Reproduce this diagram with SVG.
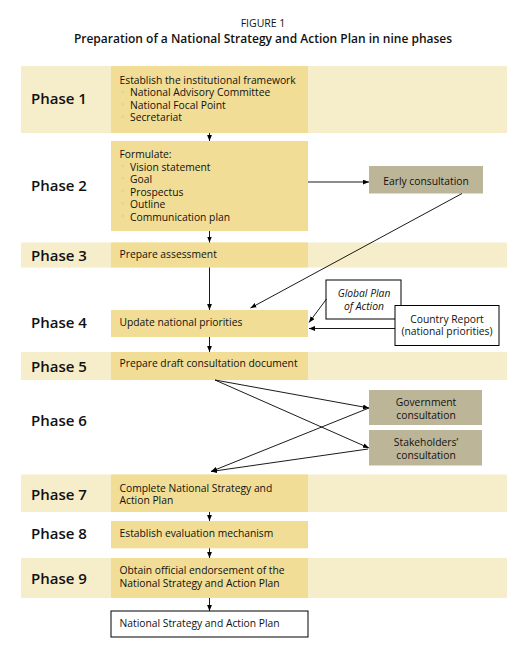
<svg xmlns="http://www.w3.org/2000/svg" width="530" height="653" viewBox="0 0 530 653">
<defs>
<marker id="ah" viewBox="0 0 10 8" refX="10" refY="4" markerWidth="6" markerHeight="5" orient="auto" markerUnits="userSpaceOnUse">
<path d="M0,0 L10,4 L0,8 Z" fill="#000"/>
</marker>
<style>
text{font-family:"Open Sans","Liberation Sans",sans-serif;fill:#111}
.band{fill:#f6edcb}
.box{fill:#f1dd95}
.cons{fill:#bdb597}
.wbox{fill:#fff;stroke:#000;stroke-width:1}
.ph{font-size:15px;font-weight:600}
.t{font-size:10.3px}
.c{font-size:10.3px;text-anchor:middle}
.bul{fill:#e3d49c}
.ln{stroke:#000;stroke-width:0.9;fill:none;marker-end:url(#ah)}
</style>
</defs>
<rect width="530" height="653" fill="#fff"/>
<g id="title">
<text x="263" y="27" font-size="10.5" text-anchor="middle">FIGURE 1</text>
<text x="263" y="43" font-size="12" font-weight="600" text-anchor="middle">Preparation of a National Strategy and Action Plan in nine phases</text>
</g>
<g id="bands">
<rect class="band" x="21" y="66" width="486" height="67"/>
<rect class="band" x="21" y="242.5" width="486" height="25"/>
<rect class="band" x="21" y="352" width="486" height="28"/>
<rect class="band" x="21" y="474.5" width="486" height="37.5"/>
<rect class="band" x="21" y="558" width="486" height="40"/>
</g>
<g id="phase1">
<text class="ph" x="31" y="104">Phase 1</text>
<rect class="box" x="111" y="66" width="197" height="67"/>
<text class="t" x="119.5" y="83.6">Establish the institutional framework</text>
<rect class="bul" x="121.5" y="90.5" width="2.6" height="2.6"/>
<rect class="bul" x="121.5" y="103" width="2.6" height="2.6"/>
<rect class="bul" x="121.5" y="115.5" width="2.6" height="2.6"/>
<text class="t" x="130" y="96.4">National Advisory Committee</text>
<text class="t" x="130" y="108.9">National Focal Point</text>
<text class="t" x="130" y="121.4">Secretariat</text>
</g>
<g id="phase2">
<text class="ph" x="31" y="190.8">Phase 2</text>
<rect class="box" x="111" y="141" width="197" height="90"/>
<text class="t" x="119.5" y="158">Formulate:</text>
<rect class="bul" x="121.5" y="164.5" width="2.6" height="2.6"/>
<rect class="bul" x="121.5" y="177" width="2.6" height="2.6"/>
<rect class="bul" x="121.5" y="189.5" width="2.6" height="2.6"/>
<rect class="bul" x="121.5" y="202" width="2.6" height="2.6"/>
<rect class="bul" x="121.5" y="214.5" width="2.6" height="2.6"/>
<text class="t" x="130" y="170.5">Vision statement</text>
<text class="t" x="130" y="183">Goal</text>
<text class="t" x="130" y="195.5">Prospectus</text>
<text class="t" x="130" y="208">Outline</text>
<text class="t" x="130" y="220.5">Communication plan</text>
</g>
<g id="early">
<rect class="cons" x="369" y="166" width="114" height="27.5"/>
<text class="c" x="426" y="184.5">Early consultation</text>
</g>
<g id="phase3">
<text class="ph" x="31" y="260.5">Phase 3</text>
<rect class="box" x="111" y="242.5" width="197" height="25"/>
<text class="t" x="119.5" y="257.7">Prepare assessment</text>
</g>
<g id="phase4">
<text class="ph" x="31" y="327.5">Phase 4</text>
<rect class="box" x="111" y="310" width="197" height="27"/>
<text class="t" x="119.5" y="325.5">Update national priorities</text>
</g>
<g id="gpa">
<rect class="wbox" x="326" y="280" width="75" height="39"/>
<text class="c" x="364" y="297" font-style="italic">Global Plan</text>
<text class="c" x="364" y="309.7" font-style="italic">of  Action</text>
</g>
<g id="country">
<rect class="wbox" x="395" y="305.5" width="104" height="40"/>
<text class="c" x="447" y="322.5">Country Report</text>
<text class="c" x="447" y="335">(national priorities)</text>
</g>
<g id="phase5">
<text class="ph" x="31" y="371.5">Phase 5</text>
<rect class="box" x="111" y="352" width="197" height="28"/>
<text class="t" x="119.5" y="367.4">Prepare draft consultation document</text>
</g>
<g id="phase6">
<text class="ph" x="31" y="426.3">Phase 6</text>
</g>
<g id="gov">
<rect class="cons" x="369" y="390" width="113" height="35"/>
<text class="c" x="426" y="406">Government</text>
<text class="c" x="426" y="418.5">consultation</text>
</g>
<g id="stake">
<rect class="cons" x="369" y="430" width="113" height="35.5"/>
<text class="c" x="426" y="446">Stakeholders’</text>
<text class="c" x="426" y="458.5">consultation</text>
</g>
<g id="phase7">
<text class="ph" x="31" y="500">Phase 7</text>
<rect class="box" x="111" y="474.5" width="197" height="37.5"/>
<text class="t" x="119.5" y="491.5">Complete National Strategy and</text>
<text class="t" x="119.5" y="504">Action Plan</text>
</g>
<g id="phase8">
<text class="ph" x="31" y="538.5">Phase 8</text>
<rect class="box" x="111" y="521" width="197" height="27.3"/>
<text class="t" x="119.5" y="537">Establish evaluation mechanism</text>
</g>
<g id="phase9">
<text class="ph" x="31" y="584">Phase 9</text>
<rect class="box" x="111" y="558" width="197" height="40"/>
<text class="t" x="119.5" y="574">Obtain official endorsement of the</text>
<text class="t" x="119.5" y="586.5">National Strategy and Action Plan</text>
</g>
<g id="final">
<rect class="wbox" x="111" y="611" width="197" height="26"/>
<text class="t" x="119.5" y="626.7">National Strategy and Action Plan</text>
</g>
<g id="connectors">
<line class="ln" x1="209.5" y1="133" x2="209.5" y2="141"/>
<line class="ln" x1="209.5" y1="231" x2="209.5" y2="242.5"/>
<line class="ln" x1="209.5" y1="267.5" x2="209.5" y2="310"/>
<line class="ln" x1="209.5" y1="337" x2="209.5" y2="352"/>
<line class="ln" x1="209.5" y1="512" x2="209.5" y2="521"/>
<line class="ln" x1="209.5" y1="548.3" x2="209.5" y2="558"/>
<line class="ln" x1="209.5" y1="598" x2="209.5" y2="611"/>
<line class="ln" x1="308" y1="182" x2="369" y2="182"/>
<line class="ln" x1="462" y1="193.5" x2="250.5" y2="308"/>
<line class="ln" x1="326.5" y1="299" x2="309" y2="322.5"/>
<line class="ln" x1="395" y1="328.5" x2="309" y2="328.5"/>
<line class="ln" x1="215" y1="380" x2="369" y2="408"/>
<line class="ln" x1="215" y1="380" x2="369" y2="448"/>
<line class="ln" x1="369" y1="408" x2="211" y2="471.5"/>
<line class="ln" x1="368" y1="449" x2="211" y2="471.5"/>
</g>
</svg>
